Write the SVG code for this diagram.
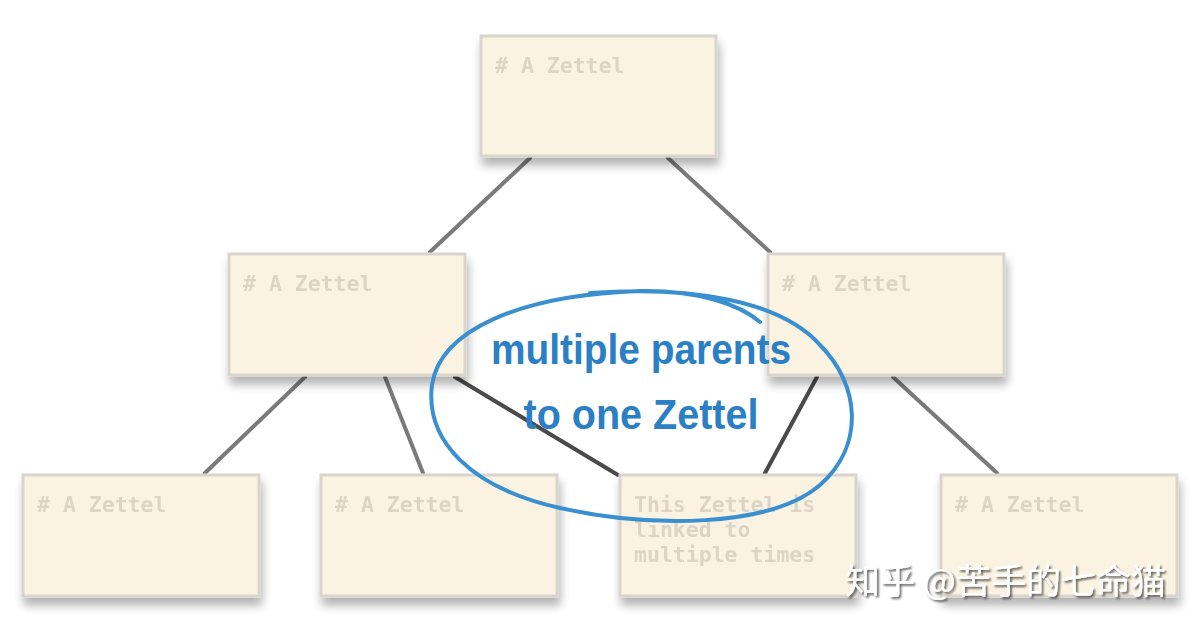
<svg xmlns="http://www.w3.org/2000/svg" width="1204" height="631" viewBox="0 0 1204 631">
<defs>
<filter id="sh" x="-10%" y="-10%" width="125%" height="135%">
<feGaussianBlur in="SourceAlpha" stdDeviation="5"/>
<feOffset dx="2" dy="8" result="b"/>
<feComponentTransfer><feFuncA type="linear" slope="0.3"/></feComponentTransfer>
<feMerge><feMergeNode/><feMergeNode in="SourceGraphic"/></feMerge>
</filter>
<filter id="wsh" x="-5%" y="-20%" width="110%" height="150%">
<feGaussianBlur in="SourceAlpha" stdDeviation="1"/>
<feOffset dx="1.5" dy="2"/>
<feComponentTransfer><feFuncA type="linear" slope="0.6"/></feComponentTransfer>
<feMerge><feMergeNode/><feMergeNode in="SourceGraphic"/></feMerge>
</filter>
</defs>
<style>
.box{fill:#fbf3e2;stroke:#d9d5cc;stroke-width:3}
.t{font-family:"DejaVu Sans Mono","Liberation Mono",monospace;font-weight:bold;font-size:21.5px;fill:#dcd5c6}
.c{stroke:#7a7a7a;stroke-width:4;stroke-linecap:round}
.d{stroke:#4a4a4a;stroke-width:4;stroke-linecap:round}
.big{font-family:"Liberation Sans",Arial,sans-serif;font-weight:bold;font-size:42px;fill:#2b7fc4}
.wm{font-family:"Noto Sans CJK SC","Noto Sans",sans-serif;font-size:35px;fill:#ffffff}
</style>
<rect width="1204" height="631" fill="#ffffff"/>
<g id="connectors">
<line class="c" x1="530" y1="158" x2="430" y2="252"/>
<line class="c" x1="668" y1="158" x2="770" y2="252"/>
<line class="c" x1="305" y1="377" x2="205" y2="473"/>
<line class="c" x1="385" y1="377" x2="423" y2="473"/>
<line class="d" x1="455" y1="377" x2="618" y2="475"/>
<line class="d" x1="817" y1="377" x2="765" y2="473"/>
<line class="c" x1="893" y1="377" x2="997" y2="473"/>
</g>
<g id="n-top" filter="url(#sh)"><rect class="box" x="481" y="36" width="235" height="120"/><text class="t" x="495" y="73"># A Zettel</text></g>
<g id="n-midleft" filter="url(#sh)"><rect class="box" x="229" y="254" width="236" height="121"/><text class="t" x="243" y="291"># A Zettel</text></g>
<g id="n-midright" filter="url(#sh)"><rect class="box" x="768" y="254" width="236" height="121"/><text class="t" x="782" y="291"># A Zettel</text></g>
<g id="n-b1" filter="url(#sh)"><rect class="box" x="23" y="475" width="236" height="121"/><text class="t" x="37" y="512"># A Zettel</text></g>
<g id="n-b2" filter="url(#sh)"><rect class="box" x="321" y="475" width="236" height="121"/><text class="t" x="335" y="512"># A Zettel</text></g>
<g id="n-b3" filter="url(#sh)"><rect class="box" x="620" y="475" width="236" height="121"/><text class="t" x="634" y="512">This Zettel is</text><text class="t" x="634" y="537">linked to</text><text class="t" x="634" y="562">multiple times</text></g>
<g id="n-b4" filter="url(#sh)"><rect class="box" x="941" y="475" width="236" height="121"/><text class="t" x="955" y="512"># A Zettel</text></g>
<g id="annotation">
<path d="M590 293 C 690 286, 780 300, 820 345 C 860 385, 865 445, 820 485 C 770 528, 650 528, 560 508 C 470 488, 425 440, 432 385 C 440 330, 520 295, 640 291 C 700 290, 740 305, 760 322" fill="none" stroke="#3a8fd0" stroke-width="4" stroke-linecap="round"/>
<text class="big" x="641" y="364" text-anchor="middle" textLength="300" lengthAdjust="spacingAndGlyphs">multiple parents</text>
<text class="big" x="641" y="429" text-anchor="middle" textLength="235" lengthAdjust="spacingAndGlyphs">to one Zettel</text>
</g>
<text class="wm" x="845" y="594" filter="url(#wsh)">知乎 @苦手的七命猫</text>
</svg>
